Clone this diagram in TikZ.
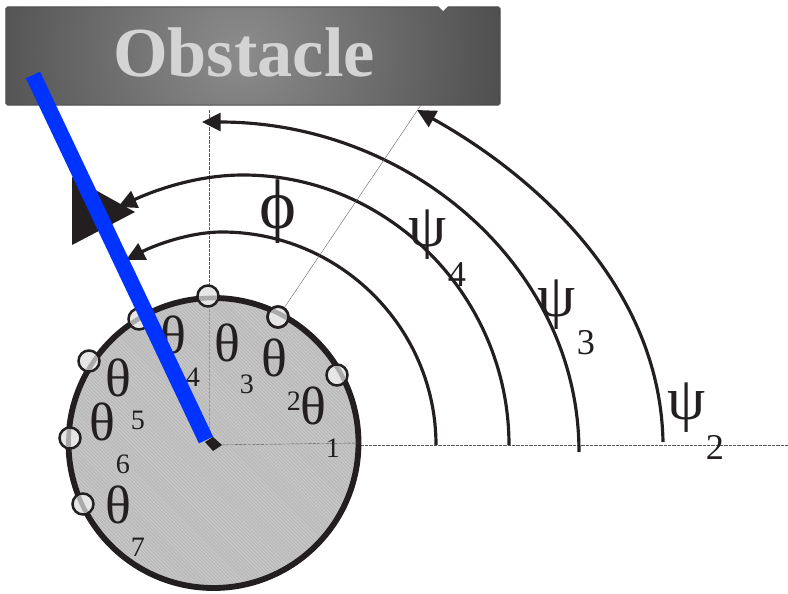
\documentclass[tikz,border=0pt]{standalone}
\usepackage{fontspec}
\setmainfont{Liberation Serif}
\usetikzlibrary{arrows.meta, positioning, patterns}
\definecolor{inkdark}  {RGB}{35,  31,  32}
\definecolor{discgray} {RGB}{186, 186, 186}
\definecolor{bandgray} {RGB}{170, 170, 170}
\definecolor{lensgray} {RGB}{230, 230, 230}
\definecolor{barblue}  {RGB}{0,   51,  255}
\pgfdeclareradialshading{wallshade}{\pgfpoint{0bp}{0bp}}{
  color(0bp)=(black!45); color(23bp)=(black!73); color(50bp)=(black!73)}
\tikzset{
  obstaclebox/.style={
    rectangle, rounded corners=0.5mm, draw=inkdark!80, line width=0.3mm,
    minimum width=148.2mm, minimum height=29.4mm,
    path picture={
      \shade[shading=wallshade]
        (path picture bounding box.center) ++(-13,-4) circle (100mm);
    }
  },
  sensor/.style={
    circle, draw=inkdark, line width=0.75mm, fill=lensgray,
    minimum size=6.3mm, inner sep=0pt
  },
  sweep/.style={
    line width=0.95mm, color=inkdark,
    -{Triangle[length=5.6mm, width=5.4mm]}
  },
  guide/.style={
    line width=0.12mm, color=black!65, dashed, dash pattern=on 1mm off 0.3mm
  },
  thetalabel/.style={font=\fontsize{46}{46}\selectfont, inner sep=0pt, color=inkdark},
  psilabel/.style={font=\fontsize{52}{52}\selectfont, inner sep=0pt, color=inkdark},
  smalldigit/.style={font=\fontsize{24}{24}\selectfont, inner sep=0pt, color=inkdark},
  bigdigit/.style={font=\fontsize{31}{31}\selectfont, inner sep=0pt, color=inkdark},
}
\begin{document}
\begin{tikzpicture}[x=0.3mm, y=-0.3mm]
  \useasboundingbox (0,0) rectangle (788,594);
  % wall
  \node[obstaclebox] (wall) at (253,56) {};
  \fill[white] (438,6) -- (448,6) -- (443,11) -- cycle;
  \node[font=\fontsize{60}{60}\selectfont\bfseries, color=black!17, inner sep=0pt]
        (walltext) at (244,52) {Obstacle};
  % guide lines
  \coordinate (origin) at (213,445);
  \coordinate (topend) at (209,110);
  \coordinate (rayend) at (421,105);
  \coordinate (axisend) at (788,445);
  \draw[guide] (topend) -- (209,445);
  \draw[guide] (origin) -- (axisend);
  % sweep arcs
  \coordinate (arcA) at (436,445);
  \coordinate (arcB) at (509,445);
  \coordinate (arcC) at (579,452);
  \coordinate (arcD) at (663,442);
  \draw[sweep] (arcA) .. controls (436,328) and (340,232) .. (222,232)
                      .. controls (190,232) and (155,245) .. (126,260);
  \draw[sweep] (arcB) .. controls (509,297) and (389,175) .. (243,175)
                      .. controls (200,175) and (160,188) .. (118,207);
  \draw[sweep] (arcC) .. controls (579,267) and (410,122) .. (202,122);
  \draw[sweep] (arcD) .. controls (660,280) and (525,170) .. (417,110);
  % big wedge
  \fill[inkdark] (72,177) -- (135,212) -- (72,245) -- cycle;
  % body
  \node[circle, fill=discgray,
        postaction={pattern=north west lines, pattern color=black!18},
        minimum size=87mm, inner sep=0pt] (disc) at (213.5,443) {};
  \draw[line width=1.75mm, color=inkdark] (disc.center) circle (43.5mm);
  \draw[guide, color=black!40] (209,300) -- (209,440);
  \draw[guide] (origin) -- (disc.east);
  % sensors
  \foreach \i/\x/\y in {1/337/375, 2/278/317, 3/208/296, 4/139/319, 5/89/361, 6/70/438, 7/83/504} {
    \node[sensor] (s\i) at (\x,\y) {};
    \begin{scope}
      \clip (s\i) circle (2.7mm);
      \draw[line width=1.4mm, color=bandgray] (disc.center) circle (43.5mm);
    \end{scope}
  }
  \draw[line width=0.12mm, color=black!60] (s2) -- (rayend);
  \node[sensor, fill=none] at (s2) {};
  % labels
  \foreach \i/\x/\y in {a/313/406, b/274/358, c/227/343, d/173/335, e/118/378, f/102/422, g/118/505}
    \node[thetalabel] (theta\i) at (\x,\y) {θ};
  \foreach \i/\x/\y in {1/333/448, 2/294/401, 3/247/384, 4/193/377, 5/138/420, 6/123/464, 7/138/547}
    \node[smalldigit] (num\i) at (\x,\y) {\i};
  \node[psilabel] (psiD) at (428,235) {ψ};
  \node[psilabel] (psiC) at (557,305) {ψ};
  \node[psilabel] (psiB) at (687,408) {ψ};
  \node[bigdigit] (subD) at (457,275) {4};
  \node[bigdigit] (subC) at (586,343) {3};
  \node[bigdigit] (subB) at (715,447) {2};
  \node[font=\fontsize{60}{60}\selectfont, inner sep=0pt, color=inkdark] (phi) at (278,212) {ϕ};
  % heading bar
  \coordinate (barbase) at (206,440);
  \coordinate (bartip) at (33,75);
  \fill[inkdark] (205,442) -- (213,437) -- (222,445) -- (213,451) -- cycle;
  \draw[line width=4.7mm, color=barblue] (barbase) -- (bartip);
\end{tikzpicture}
\end{document}
